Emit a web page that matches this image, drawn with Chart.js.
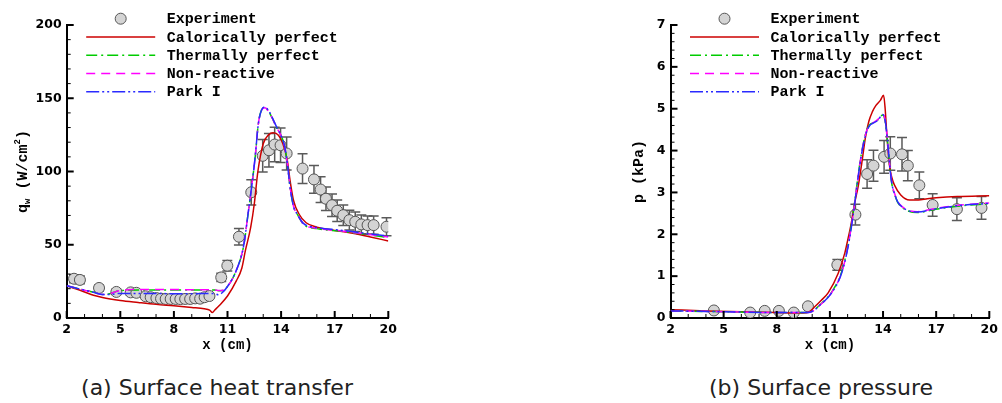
<!DOCTYPE html>
<html lang="en">
<head>
<meta charset="utf-8">
<title>Surface heat transfer and pressure</title>
<script src="https://cdn.jsdelivr.net/npm/chart.js"></script>
<style>
  body { margin: 0; background: #fff; width: 1002px; height: 403px; position: relative; overflow: hidden; }
  canvas { position: absolute; top: 0; }
  #heatChart { left: 0; }
  #pressChart { left: 501px; }
  .caption { position: absolute; top: 375px; line-height: 26px; font-family: "DejaVu Sans", sans-serif;
             font-size: 22px; color: #222; transform: translateX(-50%); white-space: nowrap; }
</style>
</head>
<body>
<canvas id="heatChart" width="501" height="360"></canvas>
<canvas id="pressChart" width="501" height="360"></canvas>
<div class="caption" style="left:217px">(a) Surface heat transfer</div>
<div class="caption" style="left:821px">(b) Surface pressure</div>

<script>
  // ---- data ----
  const xTicks = [2, 5, 8, 11, 14, 17, 20];
  const qTicks = [0, 50, 100, 150, 200];
  const pTicks = [0, 1, 2, 3, 4, 5, 6, 7];
  const labels = ['Experiment', 'Calorically perfect', 'Thermally perfect', 'Non-reactive', 'Park I'];

  // (a) heat transfer, experiment
  const qExpX = [2.41, 2.74, 3.81, 4.78, 5.58, 5.9, 6.42, 6.7, 7.02, 7.28, 7.54, 7.82, 8.1, 8.36, 8.63, 8.91, 9.19, 9.47, 9.72, 9.99,
                 10.65, 10.99, 11.64, 12.33, 12.97, 13.32, 13.64, 13.97, 14.31, 15.2, 15.84, 16.21, 16.51, 16.85, 17.14, 17.48, 17.82, 18.15, 18.49, 18.84, 19.18, 19.9];
  const qExp = [26.8, 26.0, 20.5, 17.8, 17.5, 17.2, 14.8, 14.2, 13.6, 13.2, 13.0, 13.0, 13.0, 12.9, 13.0, 13.0, 13.4, 13.2, 14.2, 15.0,
                27.7, 35.7, 55.5, 85.8, 110.7, 114.5, 118.4, 117.9, 112.3, 102, 94.6, 87.7, 81.4, 77, 73.2, 70.2, 66.8, 65.7, 63.9, 63.4, 63.4, 62.3];
  const qErr = [2.7, 2.6, 2.1, 1.8, 1.8, 1.7, 1.5, 1.4, 1.4, 1.3, 1.3, 1.3, 1.3, 1.3, 1.3, 1.3, 1.3, 1.3, 1.4, 1.5,
                2.8, 3.6, 5.6, 8.6, 11.1, 11.5, 11.8, 11.8, 11.2, 10.2, 9.5, 8.8, 8.1, 7.7, 7.3, 7.0, 6.7, 6.6, 6.4, 6.3, 6.3, 6.2];

  // (a) heat transfer, models
  const qCalX = [2, 2.5, 3, 3.5, 4, 5, 6, 7, 8, 9, 9.7, 10.0, 10.15, 10.3, 10.5, 11, 11.5, 11.8, 12, 12.3,
                 12.5, 12.7, 13, 13.3, 13.55, 13.85, 14.1, 14.35, 14.5, 14.7, 15, 15.4, 16, 17, 18, 19, 20];
  const qCal = [22, 20, 17.8, 15.5, 14, 12, 10.6, 9.3, 8.3, 7.2, 6.3, 5.4, 3.8, 5.6, 8, 15, 25.5, 34, 46, 62,
                78, 100, 119, 125, 126.4, 124.8, 119, 107.5, 94, 80, 71, 65, 62, 59.8, 57.8, 55.3, 52.6];
  const qModX = [2, 3, 3.5, 4, 4.4, 4.7, 5, 6, 7, 8, 9, 10, 10.3, 10.5, 10.7, 11, 11.5, 11.9, 12.15, 12.35,
                 12.55, 12.72, 12.9, 13.1, 13.3, 13.5, 13.75, 14.03, 14.2, 14.35, 14.5, 14.7, 14.9, 15.25, 16, 17.3, 18.8, 20];
  const qTherm = [22, 19, 17.6, 16, 16.5, 17.8, 18.6, 19.1, 19.1, 19.1, 19.1, 19.1, 19.1, 18.6, 18.8, 21.5, 32.7, 49, 71, 89.5,
                  110, 132, 141.8, 143.5, 141, 136.5, 130, 123.6, 117, 105.5, 89.5, 76, 71, 64, 61, 59.3, 57, 55];
  const qNonR = [22, 19, 17.6, 16, 16.5, 17.8, 18.8, 19.4, 19.4, 19.4, 19.3, 19.3, 19.2, 18.7, 18.8, 21.5, 32.7, 49, 71, 89.5,
                 110, 132, 141.8, 143.5, 141, 136.5, 130, 123.6, 117, 105.5, 89.5, 76, 71, 64.2, 61.2, 59.5, 57.2, 55.3];
  const qPark = [22, 19, 17.6, 16, 16, 16.4, 16.8, 16.8, 16.7, 16.6, 16.6, 16.8, 16.5, 15.8, 17.2, 21.5, 32.7, 49, 71, 89.5,
                 110, 132, 141.8, 144, 141.5, 137, 130.4, 123.6, 117, 105.5, 89.5, 76, 71, 64.6, 61.8, 60, 57.7, 56];

  // (b) pressure, experiment
  const pExpX = [4.45, 6.5, 7.32, 8.12, 8.96, 9.76, 11.42, 12.44, 13.1, 13.46, 14.06, 14.41, 15.07, 15.4, 16.05, 16.8, 18.17, 19.56];
  const pExp = [0.18, 0.13, 0.17, 0.17, 0.13, 0.28, 1.27, 2.47, 3.44, 3.64, 3.85, 3.93, 3.91, 3.64, 3.17, 2.70, 2.60, 2.63];
  const pErr = [0.02, 0.01, 0.02, 0.02, 0.01, 0.03, 0.13, 0.25, 0.34, 0.37, 0.39, 0.40, 0.40, 0.36, 0.32, 0.27, 0.27, 0.27];

  // (b) pressure, models
  const pCalX = [2, 4, 6, 8, 9.5, 9.8, 10.17, 10.5, 10.9, 11.47, 11.84, 12.0, 12.2, 12.4, 12.6, 12.8, 13.0, 13.2, 13.4, 13.6,
                 13.85, 14.03, 14.12, 14.22, 14.36, 14.5, 14.64, 15, 15.5, 16, 16.5, 17, 18.2, 20];
  const pCal = [0.2, 0.17, 0.15, 0.13, 0.12, 0.14, 0.28, 0.42, 0.6, 1.07, 1.55, 1.85, 2.25, 2.75, 3.15, 3.7, 4.3, 4.7, 4.93, 5.08,
                5.2, 5.32, 5.0, 4.35, 3.66, 3.35, 3.18, 2.94, 2.82, 2.82, 2.85, 2.87, 2.9, 2.92];
  const pModX = [2, 5, 8, 9.8, 10.5, 11.1, 11.66, 12.03, 12.31, 12.5, 12.6, 12.78, 13.05, 13.25, 13.42, 13.7, 13.98, 14.12, 14.26, 14.41,
                 14.53, 14.64, 14.82, 15.0, 15.39, 15.94, 16.87, 18.18, 20];
  const pTherm = [0.17, 0.15, 0.13, 0.13, 0.34, 0.62, 1.1, 1.75, 2.5, 3.1, 3.42, 3.93, 4.45, 4.62, 4.66, 4.73, 4.85, 4.7, 4.18, 3.48,
                  3.12, 2.97, 2.77, 2.67, 2.56, 2.52, 2.59, 2.67, 2.73];
  const pNonR = [0.17, 0.15, 0.13, 0.13, 0.33, 0.61, 1.08, 1.73, 2.47, 3.08, 3.4, 3.92, 4.44, 4.61, 4.66, 4.74, 4.87, 4.73, 4.22, 3.52,
                 3.15, 2.99, 2.79, 2.69, 2.58, 2.54, 2.61, 2.69, 2.75];
  const pPark = [0.17, 0.15, 0.13, 0.13, 0.33, 0.6, 1.07, 1.71, 2.45, 3.06, 3.38, 3.9, 4.42, 4.6, 4.65, 4.72, 4.86, 4.72, 4.2, 3.5,
                 3.14, 2.98, 2.78, 2.68, 2.57, 2.53, 2.6, 2.68, 2.74];

  // ---- helpers ----
  const pts = (xs, ys) => xs.map((x, i) => ({ x: x, y: ys[i] }));
  const MONO = '"Liberation Mono", "DejaVu Sans Mono", monospace';
  Chart.defaults.font.family = '"DejaVu Sans", sans-serif';

  function datasets(ex, ey, m) {
    const line = (label, xs, ys, color, dash, order) => ({
      label: label, data: pts(xs, ys), borderColor: color, borderWidth: 1.5, borderDash: dash,
      pointRadius: 0, showLine: true, cubicInterpolationMode: 'monotone', order: order
    });
    return [
      { label: labels[0], data: pts(ex, ey), showLine: false, pointRadius: 5.5, pointBackgroundColor: '#d4d4d4',
        pointBorderColor: '#555', pointBorderWidth: 1, order: 10 },
      line(labels[1], m[0], m[1], '#cc0000', [], 4),
      line(labels[2], m[2], m[3], '#00cc00', [11, 4, 2, 4], 3),
      line(labels[3], m[2], m[4], '#ff00ff', [9, 6], 2),
      line(labels[4], m[2], m[5], '#2a2aff', [13, 3, 2, 3, 2, 3], 1)
    ];
  }

  // error bars, inward ticks, axis titles and legend
  const deco = {
    id: 'deco',
    beforeDatasetsDraw(chart, args, o) {
      const ctx = chart.ctx, ys = chart.scales.y, meta = chart.getDatasetMeta(0);
      ctx.save();
      ctx.strokeStyle = '#5a5a5a';
      ctx.lineWidth = 1.5;
      meta.data.forEach((pt, i) => {
        const v = chart.data.datasets[0].data[i].y, e = o.err[i];
        const t = ys.getPixelForValue(v + e), b = ys.getPixelForValue(v - e);
        ctx.beginPath();
        ctx.moveTo(pt.x, t); ctx.lineTo(pt.x, b);
        ctx.moveTo(pt.x - 5, t); ctx.lineTo(pt.x + 5, t);
        ctx.moveTo(pt.x - 5, b); ctx.lineTo(pt.x + 5, b);
        ctx.stroke();
      });
      ctx.restore();
    },
    afterDraw(chart, args, o) {
      const ctx = chart.ctx, ca = chart.chartArea, xs = chart.scales.x, ys = chart.scales.y;
      ctx.save();
      ctx.strokeStyle = '#000';
      // inward ticks
      for (let v = xs.min; v <= xs.max + 1e-9; v += o.minorX) {
        const major = xTicks.some(t => Math.abs(t - v) < 1e-6);
        const px = xs.getPixelForValue(v);
        ctx.lineWidth = major ? 2 : 1;
        ctx.beginPath(); ctx.moveTo(px, ca.bottom); ctx.lineTo(px, ca.bottom - (major ? 7 : 4)); ctx.stroke();
      }
      for (let v = ys.min; v <= ys.max + 1e-9; v += o.minorY) {
        const major = o.yMajor.some(t => Math.abs(t - v) < 1e-6);
        const py = ys.getPixelForValue(v);
        ctx.lineWidth = major ? 2 : 1;
        ctx.beginPath(); ctx.moveTo(ca.left, py); ctx.lineTo(ca.left + (major ? 7 : 4), py); ctx.stroke();
      }
      // x title
      ctx.fillStyle = '#000';
      ctx.font = 'bold 14px ' + MONO;
      ctx.textAlign = 'center';
      ctx.textBaseline = 'middle';
      ctx.fillText('x (cm)', (ca.left + ca.right) / 2, ca.bottom + 27);
      // y title, rotated, with sub/superscripts
      ctx.save();
      ctx.translate(ca.left + o.yTitleDx, (ca.top + ca.bottom) / 2);
      ctx.rotate(-Math.PI / 2);
      ctx.textAlign = 'left';
      ctx.textBaseline = 'alphabetic';
      let w = 0;
      o.yTitle.forEach(p => { ctx.font = 'bold ' + p.s + 'px ' + MONO; w += ctx.measureText(p.t).width; });
      let cx = -w / 2;
      o.yTitle.forEach(p => {
        ctx.font = 'bold ' + p.s + 'px ' + MONO;
        ctx.fillText(p.t, cx, 5 + p.dy);
        cx += ctx.measureText(p.t).width;
      });
      ctx.restore();
      // legend
      ctx.font = 'bold 15px ' + MONO;
      ctx.textAlign = 'left';
      ctx.textBaseline = 'middle';
      chart.data.datasets.forEach((ds, i) => {
        const y = ca.top - 6.3 + i * 18.25;
        if (i === 0) {
          ctx.beginPath(); ctx.arc(ca.left + 54, y, 5.5, 0, Math.PI * 2);
          ctx.fillStyle = ds.pointBackgroundColor; ctx.fill();
          ctx.lineWidth = 1; ctx.strokeStyle = ds.pointBorderColor; ctx.stroke();
        } else {
          ctx.beginPath(); ctx.setLineDash(ds.borderDash);
          ctx.lineWidth = 1.5; ctx.strokeStyle = ds.borderColor;
          ctx.moveTo(ca.left + 19.5, y); ctx.lineTo(ca.left + 88.5, y); ctx.stroke();
          ctx.setLineDash([]);
        }
        ctx.fillStyle = '#000';
        ctx.fillText(ds.label, ca.left + 100, y + 1);
      });
      ctx.restore();
    }
  };

  function makeChart(id, ds, yMax, yTicks, pad, yWidth, decoOpts) {
    return new Chart(document.getElementById(id), {
      type: 'scatter',
      data: { datasets: ds },
      plugins: [deco],
      options: {
        responsive: false,
        animation: false,
        layout: { padding: pad },
        plugins: { legend: { display: false }, tooltip: { enabled: false }, deco: decoOpts },
        scales: {
          x: {
            type: 'linear', min: 2, max: 20,
            afterBuildTicks: s => { s.ticks = xTicks.map(v => ({ value: v })); },
            afterFit: s => { s.height = 42; },
            grid: { display: false, drawTicks: false, tickLength: 0 },
            border: { display: true, color: '#000', width: 2 },
            ticks: { padding: 4, color: '#000', font: { size: 12.5, weight: 'bold' } }
          },
          y: {
            type: 'linear', min: 0, max: yMax,
            afterBuildTicks: s => { s.ticks = yTicks.map(v => ({ value: v })); },
            afterFit: s => { s.width = yWidth; },
            grid: { display: false, drawTicks: false, tickLength: 0 },
            border: { display: true, color: '#000', width: 2 },
            ticks: { padding: 5, color: '#000', font: { size: 12.5, weight: 'bold' } }
          }
        }
      }
    });
  }

  makeChart('heatChart',
    datasets(qExpX, qExp, [qCalX, qCal, qModX, qTherm, qNonR, qPark]),
    200, qTicks, { left: 0, right: 112.7, top: 25, bottom: 0 }, 66.7,
    { err: qErr, minorX: 1, minorY: 10, yMajor: qTicks, yTitleDx: -45,
      yTitle: [{ t: 'q', s: 15, dy: 0 }, { t: 'w', s: 9, dy: 3 }, { t: ' (W/cm', s: 15, dy: 0 }, { t: '2', s: 9, dy: -7 }, { t: ')', s: 15, dy: 0 }] });

  makeChart('pressChart',
    datasets(pExpX, pExp, [pCalX, pCal, pModX, pTherm, pNonR, pPark]),
    7, pTicks, { left: 103.5, right: 9.3, top: 25, bottom: 0 }, 66,
    { err: pErr, minorX: 1, minorY: 0.2, yMajor: pTicks, yTitleDx: -33,
      yTitle: [{ t: 'p (kPa)', s: 15, dy: 0 }] });
</script>
</body>
</html>
